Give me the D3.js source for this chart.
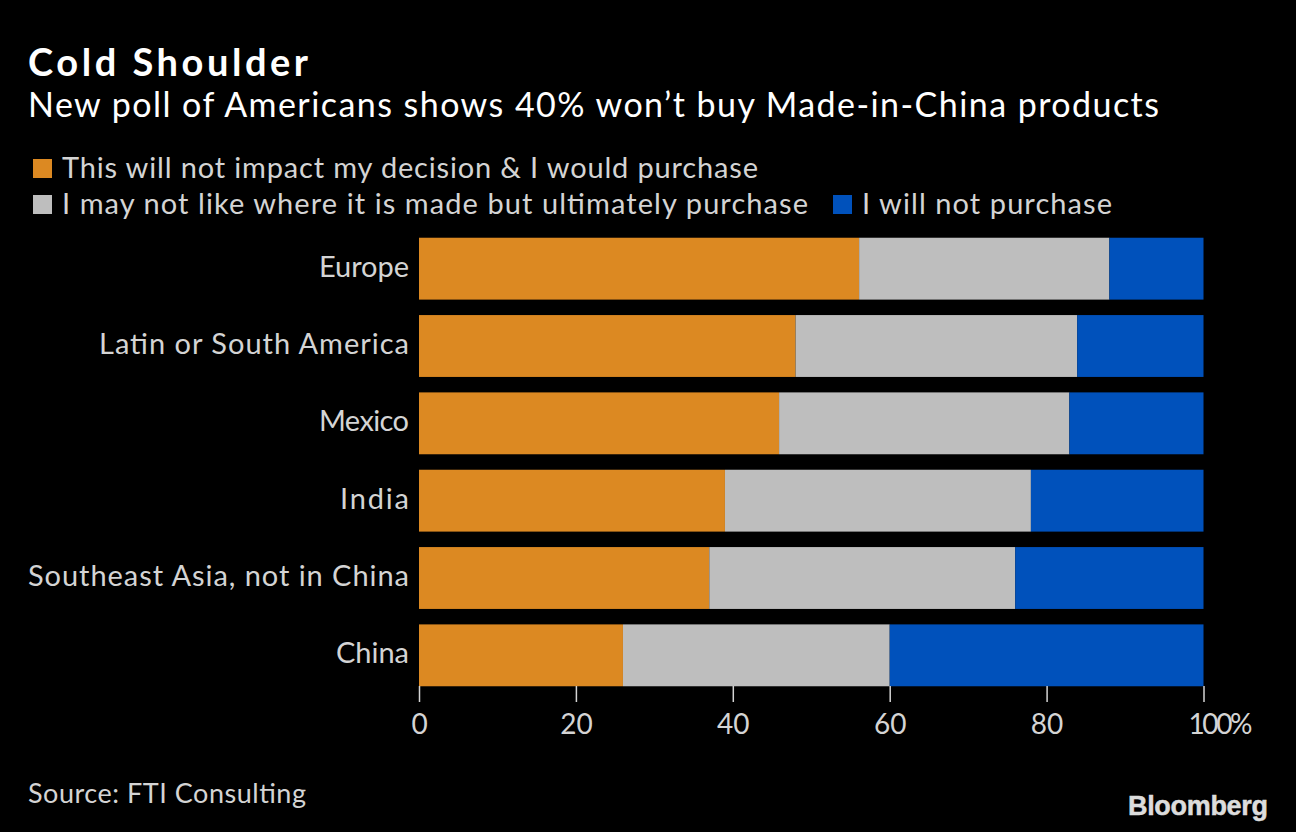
<!DOCTYPE html>
<html>
<head>
<meta charset="utf-8">
<script src="https://cdn.jsdelivr.net/npm/d3@7"></script>
<style>
  html, body { margin: 0; padding: 0; background: #000; }
  svg { display: block; }
  text { font-family: Lato, "Noto Sans", sans-serif; }
</style>
</head>
<body>
<svg id="chart" width="1296" height="832"></svg>
<script>
const regions = ["Europe", "Latin or South America", "Mexico", "India", "Southeast Asia, not in China", "China"]
const wouldPurchase = [56.1, 48, 45.9, 39, 37, 26]
const mayPurchase = [31.9, 35.9, 37, 39, 39, 34]
const willNotPurchase = [12, 16.1, 17.1, 22, 24, 40]
const seriesKeys = ["would", "may", "wont"]
const seriesLabels = [
  "This will not impact my decision & I would purchase",
  "I may not like where it is made but ultimately purchase",
  "I will not purchase"
]
const seriesColors = ["#dc8922", "#bebebe", "#0051bb"]
const xTicks = [0, 20, 40, 60, 80, 100]

const rows = regions.map((region, i) => ({
  region,
  would: wouldPurchase[i],
  may: mayPurchase[i],
  wont: willNotPurchase[i]
}))

const svg = d3.select("#chart")

const x = d3.scaleLinear().domain([0, 100]).range([419, 1203.5])
const y = d3.scaleBand().domain(regions).range([230, 694]).paddingInner(0.2).paddingOuter(0.1)

// Text is spaced out to the measured width of the original
function addText(str, px, py, size, fill, width, anchor = "start", weight = 400) {
  const t = svg.append("text")
    .attr("x", px)
    .attr("y", py)
    .attr("font-size", size)
    .attr("font-weight", weight)
    .attr("fill", fill)
    .attr("text-anchor", anchor)
    .text(str)
  if (width) t.attr("textLength", width).attr("lengthAdjust", "spacing")
  return t
}

// Titles
addText("Cold Shoulder", 28, 76, 38, "#ffffff", 280, "start", 700)
addText("New poll of Americans shows 40% won\u2019t buy Made-in-China products", 28, 117, 34, "#ffffff", 1131)

// Legend
const legend = [
  { x: 33, y: 159, tx: 62, ty: 178, w: 696 },
  { x: 33, y: 195, tx: 62, ty: 214, w: 746 },
  { x: 833, y: 195, tx: 862, ty: 214, w: 250 }
]
legend.forEach((l, i) => {
  svg.append("rect")
    .attr("x", l.x).attr("y", l.y)
    .attr("width", 19).attr("height", 19)
    .attr("fill", seriesColors[i])
  addText(seriesLabels[i], l.tx, l.ty, 29, "#d4d4d4", l.w)
})

// Stacked bars
const stacked = d3.stack().keys(seriesKeys)(rows)
svg.append("g").selectAll("g")
  .data(stacked)
  .join("g")
  .attr("fill", (d, i) => seriesColors[i])
  .selectAll("rect")
  .data(d => d)
  .join("rect")
  .attr("x", d => x(d[0]))
  .attr("y", d => y(d.data.region))
  .attr("width", d => x(d[1]) - x(d[0]))
  .attr("height", y.bandwidth())

// Category labels
const labelWidths = [90, 310, 90, 69, 381, 73]
regions.forEach((region, i) => {
  addText(region, 409, y(region) + y.bandwidth() / 2 + 8, 29, "#d4d4d4", labelWidths[i], "end")
})

// X axis
const xAxis = d3.axisBottom(x)
  .tickValues(xTicks)
  .tickSize(16)
  .tickPadding(12)
  .tickFormat(d => d === 100 ? "100%" : d)

const axisG = svg.append("g")
  .attr("transform", "translate(0,686)")
  .call(xAxis)
axisG.select(".domain").remove()
axisG.selectAll(".tick line").attr("stroke", "#d4d4d4").attr("stroke-width", 1.5)
axisG.selectAll(".tick text")
  .attr("fill", "#d4d4d4")
  .style("font-family", "Lato, sans-serif")
  .style("font-size", "28px")
  .attr("text-anchor", d => d === 100 ? "start" : "middle")
  .attr("dx", d => d === 100 ? -15.5 : 0)
  .attr("textLength", d => d === 100 ? 64 : null)
  .attr("lengthAdjust", "spacing")

// Footer
addText("Source: FTI Consulting", 28, 803, 27, "#d4d4d4", 278)
svg.append("text")
  .attr("x", 1128).attr("y", 815)
  .attr("font-size", 27)
  .attr("font-weight", 700)
  .attr("fill", "#dcdcdc")
  .attr("stroke", "#dcdcdc")
  .attr("stroke-width", 0.5)
  .attr("textLength", 140)
  .attr("lengthAdjust", "spacing")
  .style("font-family", "'Liberation Sans', sans-serif")
  .text("Bloomberg")
</script>
</body>
</html>
